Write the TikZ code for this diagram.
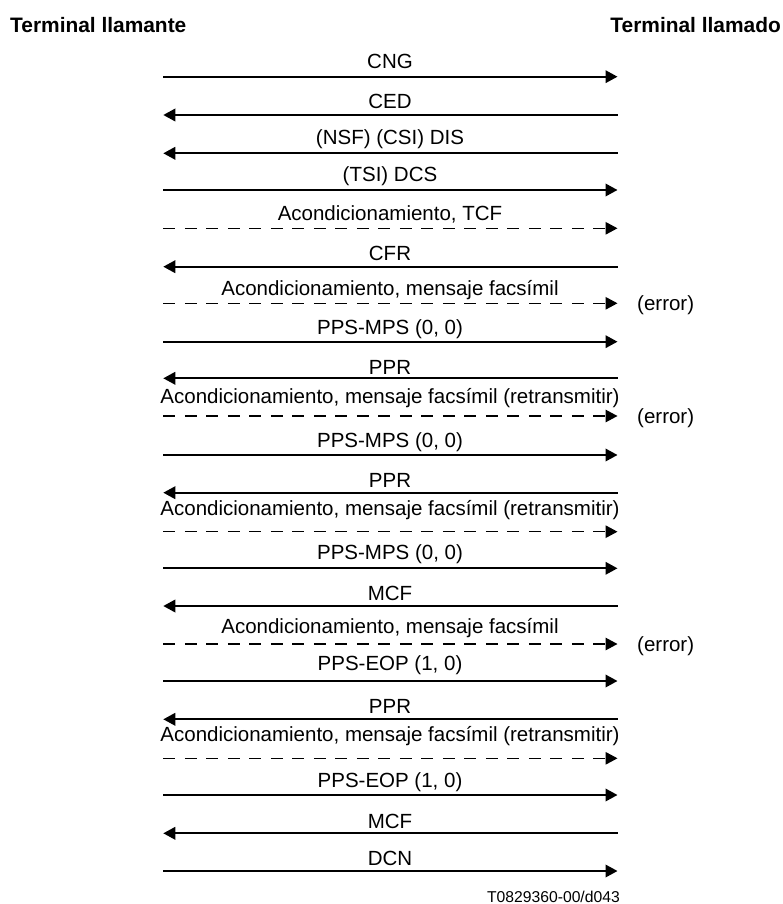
\documentclass[tikz,border=0pt]{standalone}
\usepackage{fontspec}
\setmainfont{Liberation Sans}
\usetikzlibrary{arrows.meta}
\tikzset{
  msgtext/.style={inner sep=0pt, anchor=base, font=\fontsize{20.5}{24}\selectfont},
  hdr/.style={inner sep=0pt, font=\fontsize{20.9}{24}\selectfont\bfseries},
  errtext/.style={inner sep=0pt, anchor=base west, font=\fontsize{20.5}{24}\selectfont},
  solidmsg/.style={line width=2pt, -{Triangle[length=12pt,width=12.5pt]}},
  dashmsg/.style={line width=1.4pt, dash pattern=on 12pt off 9.5pt, -{Triangle[length=12pt,width=12.5pt]}},
}
\begin{document}
\begin{tikzpicture}[x=1pt,y=-1pt]
\useasboundingbox (0,0) rectangle (782,904);
\fill[white] (0,0) rectangle (782,904);
% headers
\node[hdr, anchor=base west] (caller) at (10,32.5) {Terminal llamante};
\node[hdr, anchor=base east] (callee) at (781,32.5) {Terminal llamado};
% messages: index / line y / text baseline y / direction / style / label
\foreach \i/\ly/\ty/\dir/\sty/\lab in {
  1/76.7/69/r/solidmsg/CNG,
  2/115/108.3/l/solidmsg/CED,
  3/153.3/145/l/solidmsg/(NSF) (CSI) DIS,
  4/190/182/r/solidmsg/(TSI) DCS,
  5/228.3/220/r/dashmsg/{Acondicionamiento, TCF},
  6/266.7/260.6/l/solidmsg/CFR,
  7/303.3/295.6/r/dashmsg/{Acondicionamiento, mensaje facsímil},
  8/341.7/334/r/solidmsg/{PPS-MPS (0, 0)},
  9/378.3/374.5/l/solidmsg/PPR,
  10/416/403.5/r/dashmsg/{Acondicionamiento, mensaje facsímil (retransmitir)},
  11/455/447.5/r/solidmsg/{PPS-MPS (0, 0)},
  12/492.7/487/l/solidmsg/PPR,
  13/531.7/515/r/dashmsg/{Acondicionamiento, mensaje facsímil (retransmitir)},
  14/568.3/559/r/solidmsg/{PPS-MPS (0, 0)},
  15/606/600/l/solidmsg/MCF,
  16/644/633.3/r/dashmsg/{Acondicionamiento, mensaje facsímil},
  17/681/670.6/r/solidmsg/{PPS-EOP (1, 0)},
  18/719.3/713.5/l/solidmsg/PPR,
  19/758.3/741/r/dashmsg/{Acondicionamiento, mensaje facsímil (retransmitir)},
  20/795/787/r/solidmsg/{PPS-EOP (1, 0)},
  21/833.3/828/l/solidmsg/MCF,
  22/871/865/r/solidmsg/DCN}{
  \coordinate (L\i) at (163.3,\ly);
  \coordinate (R\i) at (617.5,\ly);
  \node[msgtext] (t\i) at (390,\ty) {\lab};
  \if r\dir
    \draw[\sty] (L\i) -- (R\i);
  \else
    \draw[\sty] (R\i) -- (L\i);
  \fi
}
% error marks
\node[errtext] (e7) at (637,310.6) {(error)};
\node[errtext] (e10) at (637,423.3) {(error)};
\node[errtext] (e16) at (637,651.8) {(error)};
% figure id
\node[inner sep=0pt, anchor=base east, font=\fontsize{15.7}{18}\selectfont] (fid) at (620,902.3) {T0829360-00/d043};
\end{tikzpicture}
\end{document}
